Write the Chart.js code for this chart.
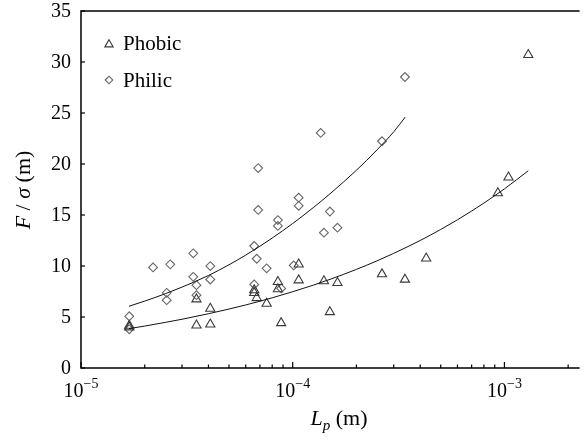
<!DOCTYPE html>
<html>
<head>
<meta charset="utf-8">
<script src="https://cdn.jsdelivr.net/npm/chart.js@4"></script>
<style>
  body { margin: 0; background: #fff; }
  #box { width: 586px; height: 440px; }
</style>
</head>
<body>
<div id="box"><canvas id="chart" width="586" height="440"></canvas></div>
<script>
// measured points, L_p in metres, F/sigma in metres
const phobicL = [1.69e-5, 1.69e-5, 3.51e-5, 3.51e-5, 4.08e-5, 4.08e-5, 6.58e-5, 6.58e-5, 6.76e-5, 7.53e-5,
                 8.51e-5, 8.51e-5, 8.82e-5, 1.067e-4, 1.067e-4, 1.404e-4, 1.498e-4, 1.627e-4, 2.64e-4, 3.39e-4,
                 4.27e-4, 9.31e-4, 1.045e-3, 1.296e-3];
const phobicF = [4.0, 4.15, 6.74, 4.18, 5.83, 4.28, 7.63, 7.37, 6.87, 6.32,
                 8.45, 7.73, 4.41, 10.16, 8.61, 8.52, 5.49, 8.35, 9.2, 8.68,
                 10.75, 17.15, 18.69, 30.7];
const philicL = [1.69e-5, 1.69e-5, 2.19e-5, 2.54e-5, 2.54e-5, 2.64e-5, 3.39e-5, 3.39e-5, 3.51e-5, 3.51e-5,
                 4.08e-5, 4.08e-5, 6.58e-5, 6.58e-5, 6.76e-5, 6.87e-5, 6.87e-5, 7.53e-5, 8.51e-5, 8.51e-5,
                 8.82e-5, 1.011e-4, 1.067e-4, 1.067e-4, 1.356e-4, 1.404e-4, 1.498e-4, 1.627e-4, 2.64e-4, 3.39e-4];
const philicF = [5.07, 3.8, 9.86, 7.37, 6.65, 10.16, 11.24, 8.94, 8.12, 7.14,
                 9.99, 8.68, 11.96, 8.19, 10.71, 15.5, 19.6, 9.77, 14.5, 13.93,
                 7.8, 10.06, 16.7, 15.9, 23.05, 13.27, 15.34, 13.76, 22.23, 28.53];

// fitted curves
const philicFitL = [1.684e-5, 2e-5, 2.5e-5, 3e-5, 4e-5, 5e-5, 6e-5, 7e-5, 8e-5, 1e-4,
                    1.25e-4, 1.5e-4, 2e-4, 2.5e-4, 3e-4, 3.4e-4];
const philicFitF = [6.05, 6.56, 7.28, 7.93, 9.07, 10.12, 11.07, 11.94, 12.74, 14.17,
                    15.72, 17.08, 19.39, 21.38, 23.16, 24.6];
const phobicFitL = [1.684e-5, 2e-5, 2.5e-5, 3e-5, 4e-5, 5e-5, 6e-5, 7e-5, 8e-5, 1e-4, 1.25e-4,
                    1.5e-4, 2e-4, 2.5e-4, 3e-4, 4e-4, 5e-4, 6e-4, 7e-4, 8e-4, 1e-3, 1.296e-3];
const phobicFitF = [3.86, 4.11, 4.47, 4.78, 5.32, 5.78, 6.18, 6.55, 6.88, 7.48, 8.12,
                    8.69, 9.67, 10.5, 11.24, 12.5, 13.58, 14.53, 15.39, 16.17, 17.56, 19.34];

const yTicks = [0, 5, 10, 15, 20, 25, 30, 35];
const xDecades = [1e-5, 1e-4, 1e-3];
const xExponents = ['\u22125', '\u22124', '\u22123'];

const pts = (xs, ys) => xs.map((v, i) => ({ x: v, y: ys[i] }));
const serif = '"Liberation Serif", "Times New Roman", serif';

// axes, inward ticks, labels, titles and legend drawn like the paper figure
const paperAxes = {
  id: 'paperAxes',
  afterDraw(chart) {
    const { ctx, chartArea: a, scales: { x, y } } = chart;
    ctx.save();
    ctx.strokeStyle = '#000';
    ctx.fillStyle = '#000';
    ctx.lineWidth = 1.5;
    ctx.beginPath();
    ctx.moveTo(a.right, a.top);
    ctx.lineTo(a.left, a.top);
    ctx.lineTo(a.left, a.bottom);
    ctx.lineTo(a.right, a.bottom);
    ctx.stroke();

    ctx.lineWidth = 1.2;
    ctx.font = '20px ' + serif;
    ctx.textAlign = 'right';
    ctx.textBaseline = 'middle';
    yTicks.forEach(v => {
      const py = y.getPixelForValue(v);
      ctx.beginPath();
      ctx.moveTo(a.left, py);
      ctx.lineTo(a.left + 4, py);
      ctx.stroke();
      ctx.fillText(String(v), a.left - 10, py + 1);
    });

    // log ticks along the bottom
    xDecades.forEach(d => {
      for (let m = 1; m <= 9; m++) {
        const v = m * d;
        if (v > x.max) break;
        const px = x.getPixelForValue(v);
        const len = m === 1 ? 6 : 3.5;
        ctx.beginPath();
        ctx.moveTo(px, a.bottom);
        ctx.lineTo(px, a.bottom - len);
        ctx.stroke();
      }
    });
    ctx.textBaseline = 'alphabetic';
    ctx.textAlign = 'left';
    xDecades.forEach((d, i) => {
      const px = x.getPixelForValue(d);
      ctx.font = '20px ' + serif;
      const w1 = ctx.measureText('10').width;
      ctx.font = '14px ' + serif;
      const w2 = ctx.measureText(xExponents[i]).width;
      const x0 = px - (w1 + w2) / 2;
      ctx.font = '20px ' + serif;
      ctx.fillText('10', x0, 397);
      ctx.font = '14px ' + serif;
      ctx.fillText(xExponents[i], x0 + w1, 388);
    });

    const drawParts = (parts, cx, base) => {
      let total = 0;
      parts.forEach(p => { ctx.font = p.f; p.w = ctx.measureText(p.t).width; total += p.w; });
      let cur = cx - total / 2;
      parts.forEach(p => { ctx.font = p.f; ctx.fillText(p.t, cur, base + p.dy); cur += p.w; });
    };
    // x title: L_p (m)
    drawParts([
      { t: 'L', f: 'italic 22px ' + serif, dy: 0 },
      { t: 'p', f: 'italic 15px ' + serif, dy: 5 },
      { t: ' (m)', f: '22px ' + serif, dy: 0 }
    ], 339, 425);

    // y title: F / sigma (m)
    ctx.save();
    ctx.translate(30, 190);
    ctx.rotate(-Math.PI / 2);
    drawParts([
      { t: 'F', f: 'italic 22px ' + serif, dy: 0 },
      { t: ' / ', f: '22px ' + serif, dy: 0 },
      { t: '\u03c3', f: 'italic 22px ' + serif, dy: 0 },
      { t: ' (m)', f: '22px ' + serif, dy: 0 }
    ], 0, 0);
    ctx.restore();

    // legend in the upper left corner
    const ds = chart.data.datasets;
    const items = [ds[2], ds[3]];
    const rows = [44.5, 80];
    items.forEach((it, i) => {
      ctx.strokeStyle = it.borderColor;
      ctx.fillStyle = 'rgba(0,0,0,0)';
      ctx.lineWidth = 1.1;
      Chart.helpers.drawPoint(ctx, { pointStyle: it.pointStyle, radius: it.pointStyle === 'triangle' ? 4.8 : 3.8, rotation: 0, borderWidth: 1.1 }, 109, rows[i]);
      ctx.fillStyle = '#000';
      ctx.font = '21px ' + serif;
      ctx.fillText(it.label, 123, i === 0 ? 50 : 87);
    });
    ctx.restore();
  }
};

new Chart(document.getElementById('chart'), {
  type: 'scatter',
  data: {
    datasets: [
      { label: 'Philic fit', data: pts(philicFitL, philicFitF), showLine: true, pointRadius: 0,
        borderColor: '#111', borderWidth: 1, cubicInterpolationMode: 'monotone' },
      { label: 'Phobic fit', data: pts(phobicFitL, phobicFitF), showLine: true, pointRadius: 0,
        borderColor: '#111', borderWidth: 1, cubicInterpolationMode: 'monotone' },
      { label: 'Phobic', data: pts(phobicL, phobicF), pointStyle: 'triangle', pointRadius: 5.3,
        borderColor: '#3a3a3a', backgroundColor: 'rgba(0,0,0,0)', pointBorderWidth: 1.1 },
      { label: 'Philic', data: pts(philicL, philicF), pointStyle: 'rectRot', pointRadius: 4.4,
        borderColor: '#666', backgroundColor: 'rgba(0,0,0,0)', pointBorderWidth: 1.1 }
    ]
  },
  options: {
    responsive: false,
    animation: false,
    layout: { padding: { left: 81, top: 11, right: 0, bottom: 72 } },
    plugins: { legend: { display: false }, tooltip: { enabled: false } },
    scales: {
      x: { type: 'logarithmic', min: 1e-5, max: 2.265e-3,
           ticks: { display: false }, grid: { display: false, drawTicks: false }, border: { display: false } },
      y: { type: 'linear', min: 0, max: 35,
           ticks: { display: false }, grid: { display: false, drawTicks: false }, border: { display: false } }
    }
  },
  plugins: [paperAxes]
});
</script>
</body>
</html>
